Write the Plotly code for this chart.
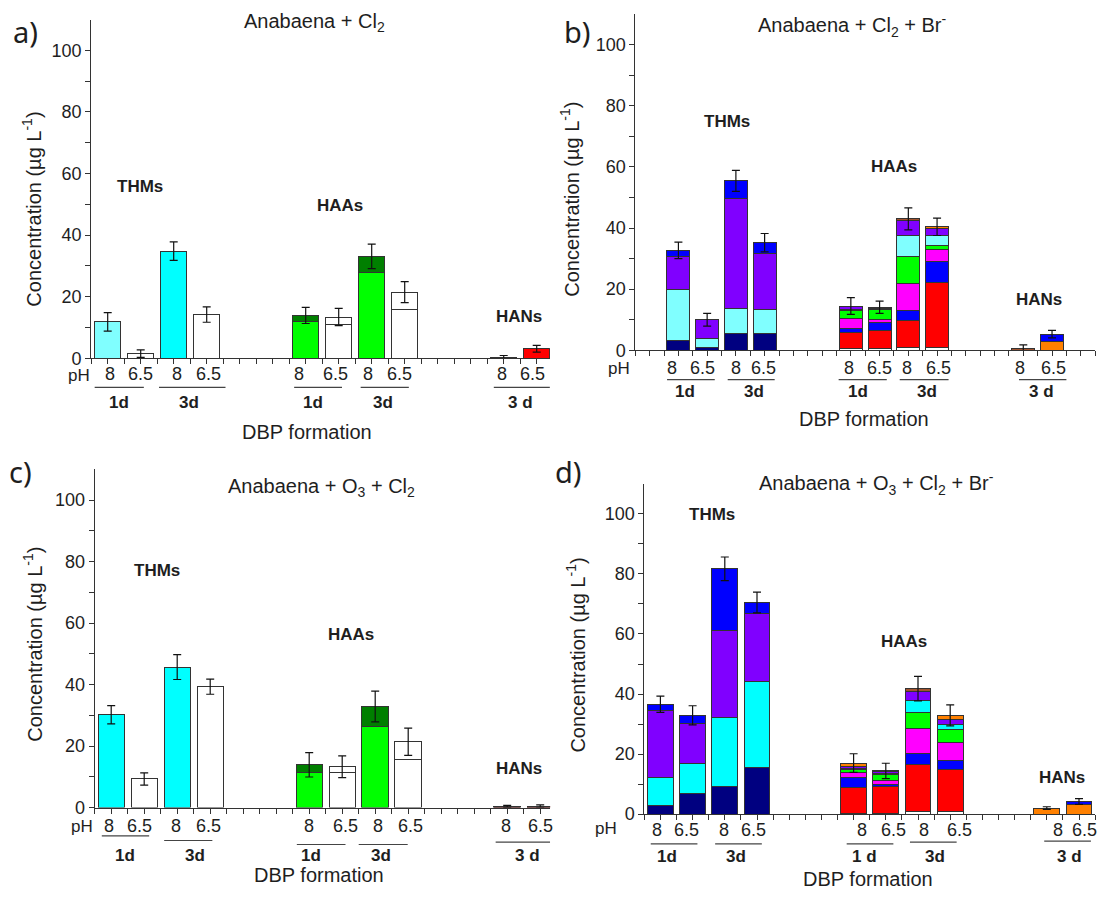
import plotly.graph_objects as go

W, H = 1103, 897

# ---------------- data ----------------
ph_text = ["8", "6.5", "8", "6.5", "8", "6.5", "8", "6.5", "8", "6.5"]
day_text_a = ["1d", "3d", "1d", "3d", "3 d"]
day_text_d = ["1d", "3d", "1 d", "3d", "3 d"]
groups = ["THMs", "HAAs", "HANs"]

# panel a: Anabaena + Cl2
a_thm_x = [1, 3, 5, 7]
a_thm = [11.8, 1.5, 34.8, 14.2]
a_thm_err = [3.0, 1.2, 3.0, 2.5]
a_haa_x = [13, 15, 17, 19]
a_haa_1 = [11.8, 11.1, 27.8, 15.7]
a_haa_2 = [2.1, 2.3, 5.3, 5.8]
a_haa_err = [2.6, 2.8, 4.0, 3.4]
a_han_x = [25, 27]
a_han = [0.4, 3.1]
a_han_err = [0.5, 1.1]

# panel b: Anabaena + Cl2 + Br-
b_thm_x = [3, 5, 7, 9]
b_thm_1 = [3.3, 1.0, 5.5, 5.5]
b_thm_2 = [16.6, 2.9, 8.1, 7.8]
b_thm_3 = [10.9, 6.1, 36.0, 18.5]
b_thm_4 = [1.9, 0.0, 5.8, 3.4]
b_thm_err = [2.7, 2.1, 3.45, 3.0]
b_haa_x = [15, 17, 19, 21]
b_haa_1 = [0.5, 0.7, 0.8, 0.8]
b_haa_2 = [5.3, 5.8, 9.1, 21.3]
b_haa_3 = [1.3, 2.6, 3.1, 6.8]
b_haa_4 = [3.3, 1.0, 8.8, 4.2]
b_haa_5 = [2.5, 3.1, 8.9, 1.3]
b_haa_6 = [0.4, 0.5, 6.9, 3.2]
b_haa_7 = [1.2, 0.4, 4.8, 2.2]
b_haa_8 = [0.0, 0.0, 0.6, 0.6]
b_haa_err = [2.75, 2.0, 3.6, 2.85]
b_han_x = [27, 29]
b_han_1 = [0.5, 2.9]
b_han_2 = [0.0, 2.4]
b_han_err = [1.3, 1.2]

# panel c: Anabaena + O3 + Cl2
c_thm_x = [1, 3, 5, 7]
c_thm = [30.2, 9.3, 45.7, 39.3]
c_thm_err = [2.95, 2.0, 4.05, 2.45]
c_haa_x = [13, 15, 17, 19]
c_haa_1 = [11.3, 11.3, 26.5, 15.8]
c_haa_2 = [2.6, 2.0, 6.4, 5.6]
c_haa_err = [3.95, 3.55, 5.0, 4.45]
c_han_x = [25, 27]
c_han = [0.4, 0.4]
c_han_err = [0.3, 0.5]

# panel d: Anabaena + O3 + Cl2 + Br-
d_thm_x = [1, 3, 5, 7]
d_thm_1 = [3.0, 6.9, 9.3, 15.6]
d_thm_2 = [9.3, 10.1, 22.9, 28.7]
d_thm_3 = [22.2, 13.2, 28.9, 22.4]
d_thm_4 = [2.1, 2.7, 20.6, 3.8]
d_thm_err = [2.7, 3.2, 3.95, 3.45]
d_haa_x = [13, 15, 17, 19]
d_haa_1 = [0.3, 0.3, 0.8, 0.8]
d_haa_2 = [8.7, 8.8, 15.7, 14.1]
d_haa_3 = [3.2, 0.9, 3.7, 2.9]
d_haa_4 = [1.5, 1.1, 8.3, 6.1]
d_haa_5 = [1.1, 2.0, 5.3, 4.2]
d_haa_6 = [0.5, 0.3, 4.1, 1.6]
d_haa_7 = [0.6, 0.7, 2.9, 1.9]
d_haa_8 = [1.1, 0.3, 1.0, 1.3]
d_haa_err = [3.1, 2.55, 4.05, 3.5]
d_han_x = [25, 27]
d_han_1 = [2.0, 3.3]
d_han_2 = [0.0, 0.9]
d_han_err = [0.45, 0.95]

# ---------------- styling ----------------
NAVY, LCYAN, CYAN, VIOLET, BLUE = "#000080", "#80FFFF", "#00FFFF", "#8000FF", "#0000FF"
WHITE, RED, MAGENTA, GREEN, DGREEN = "#FFFFFF", "#FF0000", "#FF00FF", "#00FF00", "#007F00"
ORANGE, BROWN, DRED = "#FF8000", "#A0522D", "#8B0000"
TXT = "#1e1e1e"
FONT = "Liberation Sans"

fig = go.Figure()

def px(x):
    return x / W

def py(y):
    return 1 - y / H

def add_stack(xs, layers, colors, err, ax):
    total = [0.0] * len(xs)
    for vals, col in zip(layers, colors):
        fig.add_bar(x=xs, y=vals, width=1.6, xaxis="x" + ax, yaxis="y" + ax,
                    marker=dict(color=col, line=dict(color="#333333", width=1)),
                    showlegend=False, hoverinfo="skip")
        total = [t + v for t, v in zip(total, vals)]
    fig.add_scatter(x=xs, y=total, mode="markers", xaxis="x" + ax, yaxis="y" + ax,
                    marker=dict(color="rgba(0,0,0,0)", size=1),
                    error_y=dict(type="data", array=err, color="#111111", thickness=1.2, width=4),
                    showlegend=False, hoverinfo="skip")

# panel a
add_stack(a_thm_x, [a_thm], [[LCYAN, WHITE, CYAN, WHITE]], a_thm_err, "")
add_stack(a_haa_x, [a_haa_1, a_haa_2], [[GREEN, WHITE, GREEN, WHITE], [DGREEN, WHITE, DGREEN, WHITE]], a_haa_err, "")
add_stack(a_han_x, [a_han], [RED], a_han_err, "")

# panel b
add_stack(b_thm_x, [b_thm_1, b_thm_2, b_thm_3, b_thm_4], [NAVY, LCYAN, VIOLET, BLUE], b_thm_err, "2")
add_stack(b_haa_x, [b_haa_1, b_haa_2, b_haa_3, b_haa_4, b_haa_5, b_haa_6, b_haa_7, b_haa_8],
          [WHITE, RED, BLUE, MAGENTA, GREEN, LCYAN, VIOLET, [BROWN, BROWN, BROWN, ORANGE]], b_haa_err, "2")
add_stack(b_han_x, [b_han_1, b_han_2], [[BROWN, ORANGE], BLUE], b_han_err, "2")

# panel c
add_stack(c_thm_x, [c_thm], [[CYAN, WHITE, CYAN, WHITE]], c_thm_err, "3")
add_stack(c_haa_x, [c_haa_1, c_haa_2], [[GREEN, WHITE, GREEN, WHITE], [DGREEN, WHITE, DGREEN, WHITE]], c_haa_err, "3")
add_stack(c_han_x, [c_han], [DRED], c_han_err, "3")

# panel d
add_stack(d_thm_x, [d_thm_1, d_thm_2, d_thm_3, d_thm_4], [NAVY, CYAN, VIOLET, BLUE], d_thm_err, "4")
add_stack(d_haa_x, [d_haa_1, d_haa_2, d_haa_3, d_haa_4, d_haa_5, d_haa_6, d_haa_7, d_haa_8],
          [WHITE, RED, BLUE, MAGENTA, GREEN, CYAN, VIOLET, [ORANGE, ORANGE, BROWN, ORANGE]], d_haa_err, "4")
add_stack(d_han_x, [d_han_1, d_han_2], [ORANGE, BLUE], d_han_err, "4")

# ---------------- axes ----------------
panels = {
    "": dict(x0=91.2, ppu=16.5, xmax=27.8, y0=362.3, ppy=3.113),
    "2": dict(x0=635.3, ppu=14.37, xmax=32.0, y0=354.3, ppy=3.093),
    "3": dict(x0=94.7, ppu=16.5, xmax=27.6, y0=816.7, ppy=3.11),
    "4": dict(x0=644.3, ppu=16.1, xmax=28.0, y0=823.3, ppy=3.036),
}
YMAX = 110
layout_axes = {}
for k, p in panels.items():
    x1 = p["x0"] + p["ppu"] * p["xmax"]
    ytop = p["y0"] - p["ppy"] * YMAX
    layout_axes["xaxis" + k] = dict(
        domain=[px(p["x0"]), px(x1)], range=[0, p["xmax"]], anchor="y" + k,
        tickvals=list(range(0, int(p["xmax"]) + 1)), ticks="outside", ticklen=5,
        tickwidth=1, tickcolor="#333333", showticklabels=False, showline=True,
        linecolor="#333333", linewidth=1, showgrid=False, zeroline=False, fixedrange=True)
    layout_axes["yaxis" + k] = dict(
        domain=[py(p["y0"]), py(ytop)], range=[0, YMAX], anchor="x" + k,
        tickvals=[0, 20, 40, 60, 80, 100], ticks="outside", ticklen=5, tickwidth=1,
        tickcolor="#333333", showline=True, linecolor="#333333", linewidth=1,
        showgrid=False, zeroline=False,
        tickfont=dict(family=FONT, size=18, color=TXT),
        minor=dict(tickvals=[10, 30, 50, 70, 90], ticks="outside", ticklen=5,
                   tickcolor="#333333", tickwidth=1, showgrid=False))
fig.update_layout(**layout_axes)

# ---------------- text & underline decorations ----------------
ann = []
shapes = []

def text(x, y, s, size=18, bold=False, xref="paper", angle=0, family=FONT, xanchor="center"):
    if bold:
        s = "<b>" + s + "</b>"
    ann.append(dict(x=x, y=py(y), xref=xref, yref="paper", text=s, showarrow=False,
                    font=dict(family=family, size=size, color=TXT), textangle=angle,
                    xanchor=xanchor, yanchor="middle"))

label_cfg = {
    "": dict(lab_x=[1.15, 2.98, 5.2, 7.1, 12.6, 14.8, 16.8, 18.7, 24.9, 26.75], lab_y=378,
             ph=(79, 380),
             lines=[(0.21, 3.19, 391.7), (4.11, 8.14, 391.7), (12.3, 15.2, 391.7),
                    (16.33, 19.25, 391.7), (24.4, 27.8, 391.7)],
             days=[1.66, 5.9, 13.46, 17.7, 25.99], day_y=407, day_text=day_text_a,
             dbp=(307, 437), title=(314, 23, "Anabaena + Cl<sub>2</sub>"),
             letter=(25, 32, "a)"), ytitle=(32, 212),
             grp=[(140, 189), (340, 208), (518.6, 320)]),
    "2": dict(lab_x=[2.56, 4.65, 7.03, 8.89, 14.85, 17.0, 18.91, 21.11, 26.75, 29.12], lab_y=372.3,
              ph=(619, 373),
              lines=[(2.21, 5.53, 384), (6.43, 9.7, 384), (14.15, 17.5, 384),
                     (18.4, 21.8, 384), (26.7, 30.0, 384)],
              days=[3.43, 8.28, 15.5, 20.3, 28.26], day_y=396, day_text=day_text_a,
              dbp=(864, 424), title=(851.6, 26, "Anabaena + Cl<sub>2</sub> + Br<sup>-</sup>"),
              letter=(577, 32, "b)"), ytitle=(570, 202),
              grp=[(727, 123), (894, 168), (1038.5, 303)]),
    "3": dict(lab_x=[0.85, 2.7, 4.9, 6.87, 12.97, 15.2, 17.16, 19.14, 24.9, 27.0], lab_y=835,
              ph=(82, 836),
              lines=[(0.43, 3.3, 845.3), (4.21, 7.13, 850), (12.25, 15.2, 854),
                     (16.0, 18.97, 854), (24.3, 27.6, 851.7)],
              days=[1.81, 6.06, 13.08, 17.33, 26.26], day_y=865, day_text=day_text_a,
              dbp=(318.6, 885), title=(321, 493, "Anabaena + O<sub>3</sub> + Cl<sub>2</sub>"),
              letter=(20, 477, "c)"), ytitle=(33, 652),
              grp=[(157, 577), (351, 642), (518.6, 777)]),
    "4": dict(lab_x=[0.77, 2.65, 4.95, 6.81, 13.53, 15.45, 17.37, 19.6, 25.7, 27.35], lab_y=839,
              ph=(606, 838),
              lines=[(0.4, 3.3, 853.3), (4.4, 7.3, 853.3), (12.57, 15.47, 853.3),
                     (16.5, 19.4, 851.7), (24.84, 27.74, 850.7)],
              days=[1.43, 5.7, 13.7, 18.05, 26.4], day_y=866, day_text=day_text_d,
              dbp=(868, 889), title=(876, 489, "Anabaena + O<sub>3</sub> + Cl<sub>2</sub> + Br<sup>-</sup>"),
              letter=(568, 477, "d)"), ytitle=(576, 663),
              grp=[(711.5, 520), (903.8, 649), (1061.5, 786)]),
}

for k, c in label_cfg.items():
    xr = "x" + k
    for xv, s in zip(c["lab_x"], ph_text):
        text(xv, c["lab_y"], s, size=18, xref=xr)
    text(px(c["ph"][0]), c["ph"][1], "pH", size=17)
    for (xa, xb, yy) in c["lines"]:
        shapes.append(dict(type="line", xref=xr, yref="paper", x0=xa, x1=xb, y0=py(yy), y1=py(yy),
                           line=dict(color="#444444", width=1.2)))
    for xv, s in zip(c["days"], c["day_text"]):
        text(xv, c["day_y"], s, size=17, bold=True, xref=xr)
    text(px(c["dbp"][0]), c["dbp"][1], "DBP formation", size=20)
    text(px(c["title"][0]), c["title"][1], c["title"][2], size=20)
    text(px(c["letter"][0]), c["letter"][1], c["letter"][2], size=29, family="Noto Sans")
    text(px(c["ytitle"][0]), c["ytitle"][1], "Concentration (\u00b5g L<sup>-1</sup>)", size=20, angle=-90)
    for (gx, gy), g in zip(c["grp"], groups):
        text(px(gx), gy, g, size=17, bold=True)

fig.update_layout(
    width=W, height=H, margin=dict(l=0, r=0, t=0, b=0),
    paper_bgcolor="white", plot_bgcolor="white",
    barmode="stack", bargap=0, showlegend=False,
    annotations=ann, shapes=shapes,
    font=dict(family=FONT, color=TXT),
)

fig.write_html("out.html", config={"displayModeBar": False, "staticPlot": True},
               post_script="document.body.style.margin='0';document.body.style.overflow='hidden';")
